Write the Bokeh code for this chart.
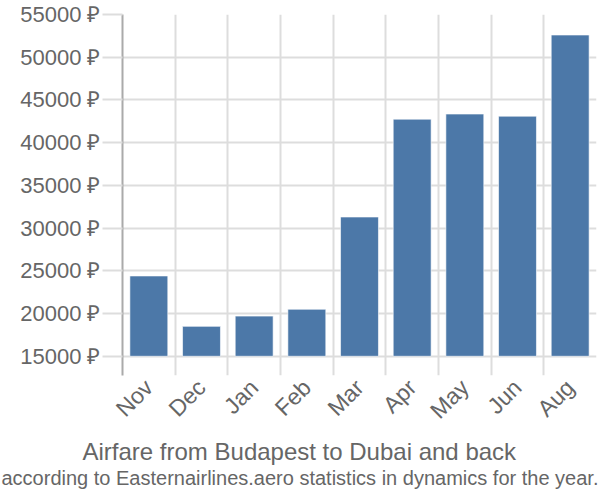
import math
from bokeh.plotting import figure
from bokeh.models import FixedTicker, Range1d, Title, ColumnDataSource
from bokeh.embed import file_html
from bokeh.resources import INLINE

months = ["Nov", "Dec", "Jan", "Feb", "Mar", "Apr", "May", "Jun", "Aug"]
prices = [24400, 18500, 19700, 20500, 31300, 42750, 43350, 43100, 52600]
y_ticks = [15000, 20000, 25000, 30000, 35000, 40000, 45000, 50000, 55000]
y_tick_labels = [f"{t} ₽" for t in y_ticks]
title = "Airfare from Budapest to Dubai and back"
subtitle = "according to Easternairlines.aero statistics in dynamics for the year."

FONT = "Liberation Sans"
GRAY = "#666666"

xs = [i + 0.5 for i in range(len(months))]
src = ColumnDataSource(dict(x=xs, top=prices, bottom=[y_ticks[0]] * len(prices)))

p = figure(width=600, height=500, output_backend="svg", toolbar_location=None,
           x_range=Range1d(0, len(months)), y_range=Range1d(12750, 55000),
           min_border_left=122, min_border_right=4, min_border_top=14, min_border_bottom=125)
p.outline_line_color = None

p.vbar(x="x", top="top", bottom="bottom", width=0.72, source=src,
       fill_color="#4c78a8", line_color="white", line_alpha=0.6, line_width=1)

# y axis
p.yaxis.ticker = FixedTicker(ticks=y_ticks)
p.yaxis.major_label_overrides = {t: l for t, l in zip(y_ticks, y_tick_labels)}
p.yaxis.axis_line_color = "#aaaaaa"
p.yaxis.axis_line_width = 2
p.yaxis.major_tick_line_color = "#dddddd"
p.yaxis.major_tick_line_width = 2
p.yaxis.major_tick_out = 20
p.yaxis.major_tick_in = 0
p.yaxis.minor_tick_line_color = None
p.yaxis.major_label_text_font = FONT
p.yaxis.major_label_text_font_size = "22px"
p.yaxis.major_label_text_color = GRAY
p.yaxis.major_label_standoff = 2

# x axis
p.xaxis.ticker = FixedTicker(ticks=xs)
p.xaxis.major_label_overrides = {x: m for x, m in zip(xs, months)}
p.xaxis.axis_line_color = None
p.xaxis.major_tick_line_color = None
p.xaxis.minor_tick_line_color = None
p.xaxis.major_label_orientation = math.pi / 4
p.xaxis.major_label_text_font = FONT
p.xaxis.major_label_text_font_size = "23px"
p.xaxis.major_label_text_color = GRAY
p.xaxis.major_label_standoff = 2

# grids
p.xgrid.ticker = FixedTicker(ticks=list(range(len(months) + 1)))
p.xgrid.grid_line_color = "#dddddd"
p.xgrid.grid_line_width = 2
p.ygrid.grid_line_color = "#dddddd"
p.ygrid.grid_line_width = 2

t1 = Title(text=title, align="left", offset=-40, text_font=FONT, text_font_size="24px",
           text_color=GRAY, text_font_style="normal", standoff=0)
t2 = Title(text=subtitle, align="left", offset=-121, text_font=FONT, text_font_size="20px",
           text_color=GRAY, text_font_style="normal", standoff=0)
p.add_layout(t1, "below")
p.add_layout(t2, "below")

open("out.html", "w").write(file_html(p, INLINE))
